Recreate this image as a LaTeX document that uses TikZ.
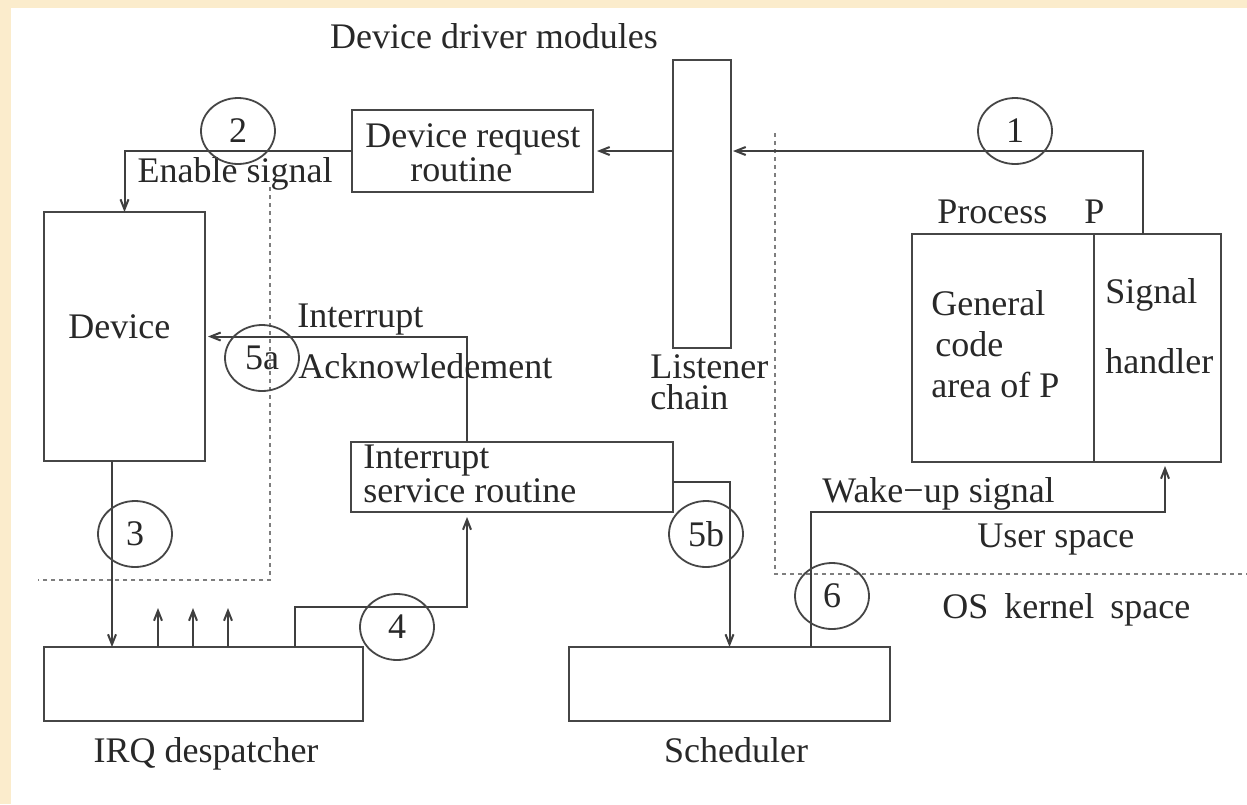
\documentclass[tikz,border=0pt]{standalone}
\usepackage{fontspec}
\setmainfont{Liberation Serif}
\usetikzlibrary{arrows.meta,calc,shapes.geometric}

\definecolor{paper}{RGB}{251,236,204}
\definecolor{ink}{RGB}{70,70,70}
\definecolor{txtc}{RGB}{40,40,40}

\tikzset{
  box/.style={draw=ink, line width=1pt, inner sep=0pt, outer sep=0pt, anchor=north west},
  wire/.style={draw=ink!90!black, line width=1pt},
  arr/.style={wire, -{Straight Barb[length=5pt,width=4pt]}},
  bound/.style={draw=ink!70, line width=0.8pt, dash pattern=on 2pt off 2pt},
  num/.style={draw=ink, line width=0.9pt, ellipse, minimum width=37pt, minimum height=33pt,
              inner sep=0pt, text=txtc, font=\fontsize{18}{18}\selectfont},
  lbl/.style={inner sep=0pt, text=txtc, font=\fontsize{18}{18}\selectfont, anchor=base west},
  lblc/.style={lbl, anchor=base},
  % two-line labels: the base anchor sits on the last line
  twoline/.style={lbl, align=left, font=\fontsize{18}{15}\selectfont},
}

\begin{document}
\begin{tikzpicture}[x=0.5pt, y=-0.5pt]
  % page: cream paper edge and white sheet
  \useasboundingbox (0,0) rectangle (1247,804);
  \fill[paper] (0,0) rectangle (1247,804);
  \fill[white] (11,8) rectangle (1247,804);

  % user / kernel space boundaries
  \draw[bound] (270,187) -- (270,580) -- (38,580);
  \draw[bound] (775,133) -- (775,574) -- (1247,574);

  % boxes
  \node[box, minimum width=120.5pt, minimum height=41pt] (drr) at (352,110) {};
  \node[box, minimum width=29pt, minimum height=144pt] (lc) at (673,60) {};
  \node[box, minimum width=91pt, minimum height=114pt] (gen) at (912,234) {};
  \node[box, minimum width=63.5pt, minimum height=114pt] (sh) at (1094,234) {};
  \node[box, minimum width=80.5pt, minimum height=124.5pt] (dev) at (44,212) {};
  \node[box, minimum width=161pt, minimum height=35pt] (isr) at (351,442) {};
  \node[box, minimum width=159.5pt, minimum height=37pt] (irq) at (44,647) {};
  \node[box, minimum width=160.5pt, minimum height=37pt] (sch) at (569,647) {};

  % texts
  \node[lblc] (tddm) at (494,48) {Device driver modules};
  \node[twoline] (tdrr) at (365,181) {Device request\\\hspace*{22.5pt}routine};
  \node[lbl] (tproc) at (937,223) {Process\hspace{18.5pt}P};
  \node[lbl] (tgen1) at (931,315) {General};
  \node[lbl] (tgen2) at (935,356) {code};
  \node[lbl] (tgen3) at (931,397) {area of P};
  \node[lbl] (tsh1) at (1105,303) {Signal};
  \node[lbl] (tsh2) at (1105,373) {handler};
  \node[lbl] (tdev) at (68,338) {Device};
  \node[twoline, font=\fontsize{18}{15.5}\selectfont] (tlc) at (650,409) {Listener\\chain};
  \node[twoline] (tisr) at (363,502) {Interrupt\\service routine};
  \node[lblc] (tirq) at (206,762) {IRQ despatcher};
  \node[lblc] (tsch) at (736,762) {Scheduler};

  % connectors
  \draw[arr, shorten >=1pt] ($(sh.north)+(-14.5,0)$) |- (lc.east |- drr.east);
  \draw[arr, shorten >=2pt] (lc.west |- drr.east) -- (drr.east);
  \draw[arr] (drr.west) -| (dev.north);
  \draw[arr] ($(dev.south)+(-12.5,0)$) -- ($(irq.north west)+(68,0)$);
  \foreach \dx in {114,149,184}
    \draw[arr] ($(irq.north west)+(\dx,0)$) -- ++(0,-39);
  \draw[arr, shorten >=2.5pt] ($(irq.north west)+(251,0)$) -- ++(0,-40) -| ($(isr.south)+(-45,0)$);
  \draw[arr, shorten >=1.5pt] ($(isr.north)+(-45,0)$) |- (dev.east);
  \draw[arr] ($(isr.east)+(0,5)$) -| (sch.north);
  \draw[arr, shorten >=2pt] ($(sch.north)+(81.5,0)$) -- ++(0,-135) -| ($(sh.south)+(7.5,0)$);

  % connector labels
  \node[lblc] (ten) at (235,182) {Enable signal};
  \node[lbl] (tack1) at (297,327) {Interrupt};
  \node[lbl] (tack2) at (298,378) {Acknowledement};
  \node[lbl] (twake) at (822,502) {Wake−up signal};
  \node[lbl] (tuser) at (977,547) {User space};
  \node[lbl] (tkern) at (942,618) {OS\hspace{8pt}kernel\hspace{8pt}space};

  % step numbers
  \node[num] (n1) at (1015,131) {1};
  \node[num] (n2) at (238,131) {2};
  \node[num] (n3) at (135,534) {3};
  \node[num] (n4) at (397,627) {4};
  \node[num] (n5a) at (262,358) {5a};
  \node[num] (n5b) at (706,534) {5b};
  \node[num] (n6) at (832,596) {6};
\end{tikzpicture}
\end{document}
